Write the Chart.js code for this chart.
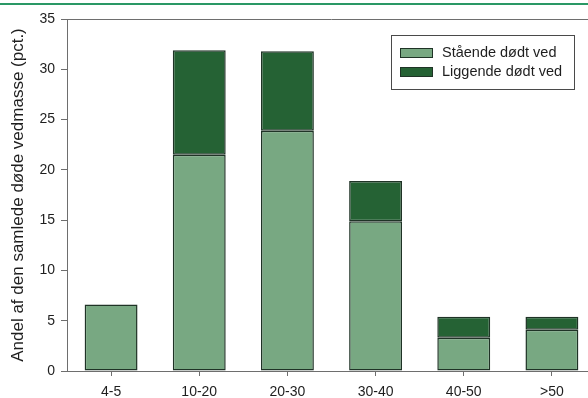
<!DOCTYPE html>
<html>
<head>
<meta charset="utf-8">
<script src="https://cdn.jsdelivr.net/npm/chart.js@4"></script>
<style>
  html, body { margin: 0; padding: 0; overflow: hidden; background: #fff; }
  canvas { display: block; }
</style>
</head>
<body>
<canvas id="chart" width="620" height="398"></canvas>
<script>
// data
const categories = ['4-5', '10-20', '20-30', '30-40', '40-50', '>50'];
const standing = [6.6, 21.5, 23.9, 14.9, 3.3, 4.1];
const lying = [0, 10.4, 7.9, 4.0, 2.1, 1.3];
const seriesNames = ['Stående dødt ved', 'Liggende dødt ved'];
const yTicks = [0, 5, 10, 15, 20, 25, 30, 35];

const lightGreen = '#78a882';
const darkGreen = '#256234';
const edge = '#1f3326';
const axisGray = '#6e6e6e';
const font = "'Liberation Sans', Arial, sans-serif";

// top green rule, plot frame top line, boxed legend
const decor = {
    id: 'decor',
    afterDraw(chart) {
        const ctx = chart.ctx;
        const area = chart.chartArea;
        ctx.save();
        ctx.fillStyle = '#2a9865';
        ctx.fillRect(0, 3, chart.width, 2);

        ctx.strokeStyle = axisGray;
        ctx.lineWidth = 1;
        ctx.beginPath();
        ctx.moveTo(area.left, area.top + 0.5);
        ctx.lineTo(area.right, area.top + 0.5);
        ctx.stroke();

        // legend
        ctx.fillStyle = '#fff';
        ctx.fillRect(391, 35, 183, 54);
        ctx.strokeStyle = '#4a4a4a';
        ctx.strokeRect(391.5, 35.5, 183, 54);
        ctx.font = '14.5px ' + font;
        ctx.textBaseline = 'middle';
        chart.data.datasets.forEach((ds, i) => {
            const y = 53 + i * 19;
            ctx.fillStyle = ds.backgroundColor;
            ctx.fillRect(400, y - 5, 33, 10);
            ctx.strokeStyle = edge;
            ctx.strokeRect(400.5, y - 4.5, 32, 9);
            ctx.fillStyle = '#1e1e1e';
            ctx.fillText(ds.label, 442, y);
        });
        ctx.restore();
    }
};

const ctx = document.getElementById('chart').getContext('2d');
new Chart(ctx, {
    type: 'bar',
    data: {
        labels: categories,
        datasets: [{
            label: seriesNames[0],
            data: standing,
            backgroundColor: lightGreen,
            borderColor: edge,
            borderWidth: 1.5,
            borderSkipped: false
        }, {
            label: seriesNames[1],
            data: lying,
            backgroundColor: darkGreen,
            borderColor: edge,
            borderWidth: 1.5,
            borderSkipped: false
        }]
    },
    options: {
        responsive: false,
        animation: false,
        layout: { padding: { top: 19, right: 24, left: 0, bottom: 0 } },
        categoryPercentage: 1,
        barPercentage: 0.6,
        plugins: {
            legend: { display: false },
            tooltip: { enabled: false }
        },
        scales: {
            x: {
                stacked: true,
                afterFit: s => { s.height = 27; },
                grid: { drawOnChartArea: false, offset: false, tickLength: 5, color: axisGray },
                border: { color: axisGray },
                ticks: { color: '#1e1e1e', font: { family: font, size: 14 }, padding: 8 }
            },
            y: {
                stacked: true,
                min: 0,
                max: 35,
                afterFit: s => { s.width = 67; },
                afterBuildTicks: s => { s.ticks = yTicks.map(v => ({ value: v })); },
                grid: { drawOnChartArea: false, tickLength: 6, color: axisGray },
                border: { color: axisGray },
                ticks: { color: '#1e1e1e', font: { family: font, size: 14 }, padding: 6 },
                title: {
                    display: true,
                    text: 'Andel af den samlede døde vedmasse (pct.)',
                    color: '#1e1e1e',
                    font: { family: font, size: 17 },
                    padding: { top: 8, bottom: 0 }
                }
            }
        }
    },
    plugins: [decor]
});
</script>
</body>
</html>
